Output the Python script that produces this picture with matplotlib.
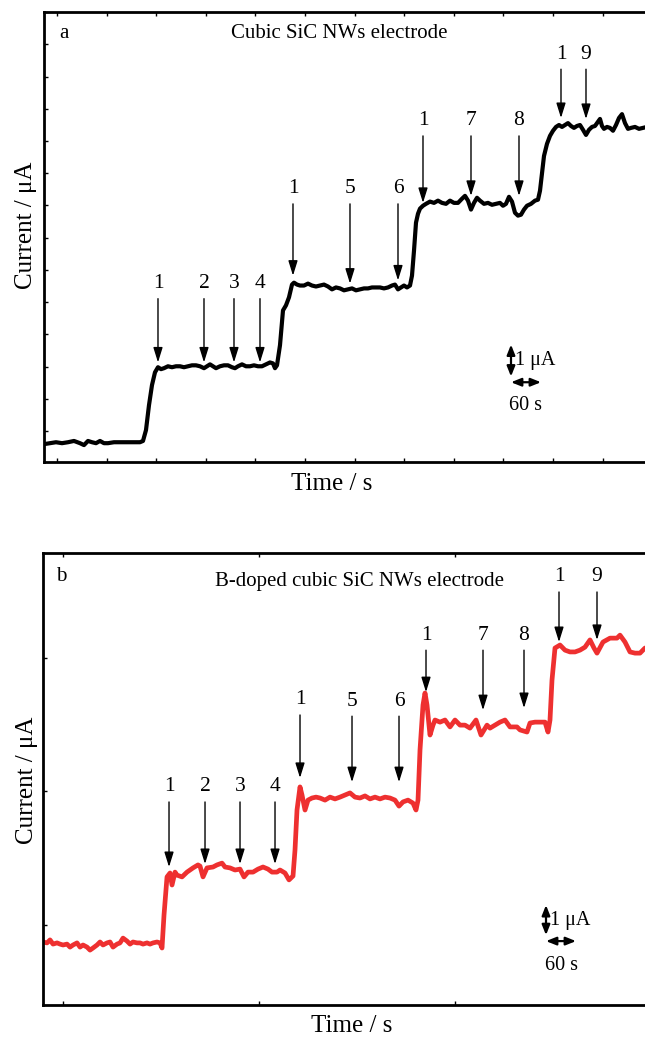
import matplotlib
matplotlib.use('Agg')
import matplotlib.pyplot as plt

plt.rcParams['font.family'] = ['Liberation Serif', 'DejaVu Serif']

# panel a: cubic SiC NWs electrode (time in s, current in uA)
time_a = [0, 12, 24, 36, 48, 60, 72, 80, 88, 96, 104, 112, 120, 128, 140, 152, 172, 192,
          198, 204, 210, 216, 222, 228, 234, 240, 248, 256, 264, 272, 280, 288, 296, 304,
          312, 320, 326, 332, 338, 344, 352, 360, 368, 376, 382, 388, 396, 404, 412, 420,
          428, 436, 444, 452, 458, 462, 466, 472, 478, 484, 490, 496, 500, 506, 512, 520,
          528, 536, 544, 552, 560, 568, 576, 584, 592, 600, 608, 616, 624, 632, 640, 648,
          656, 664, 672, 680, 688, 696, 702, 708, 714, 720, 726, 732, 736, 740, 744, 748,
          752, 758, 764, 772, 780, 788, 796, 804, 812, 820, 828, 836, 842, 848, 854, 860,
          866, 872, 880, 888, 896, 904, 912, 918, 924, 930, 936, 942, 948, 954, 960, 966,
          974, 982, 988, 992, 996, 1000, 1006, 1012, 1018, 1024, 1030, 1036, 1042, 1048,
          1054, 1060, 1066, 1072, 1078, 1084, 1090, 1096, 1102, 1108, 1112, 1116, 1120,
          1126, 1132, 1138, 1144, 1150, 1156, 1162, 1168, 1174, 1182, 1190, 1198, 1206]
current_a = [0.56, 0.59, 0.62, 0.59, 0.62, 0.66, 0.59, 0.53, 0.66, 0.62, 0.59, 0.66, 0.59,
             0.59, 0.62, 0.62, 0.62, 0.62, 0.66, 1.0, 1.78, 2.41, 2.81, 2.97, 2.91, 2.94,
             3.0, 2.97, 3.0, 3.0, 2.97, 3.0, 3.03, 3.03, 3.0, 2.94, 3.0, 3.06, 3.0, 2.94,
             3.0, 3.03, 3.03, 2.97, 2.94, 3.0, 3.06, 3.0, 3.0, 3.03, 3.0, 3.0, 3.06, 3.12,
             3.09, 2.94, 3.03, 3.66, 4.75, 4.91, 5.16, 5.56, 5.62, 5.56, 5.53, 5.53, 5.59,
             5.53, 5.5, 5.53, 5.56, 5.5, 5.41, 5.47, 5.44, 5.38, 5.41, 5.44, 5.38, 5.41,
             5.44, 5.44, 5.47, 5.47, 5.47, 5.44, 5.47, 5.53, 5.56, 5.41, 5.47, 5.53, 5.47,
             5.53, 5.84, 6.62, 7.5, 7.78, 7.94, 8.03, 8.09, 8.16, 8.12, 8.19, 8.12, 8.09,
             8.19, 8.12, 8.12, 8.25, 8.34, 8.19, 7.91, 8.12, 8.28, 8.19, 8.09, 8.12, 8.06,
             8.09, 8.12, 8.03, 8.09, 8.31, 8.16, 7.81, 7.72, 7.75, 7.91, 8.03, 8.09, 8.19,
             8.22, 8.5, 9.06, 9.59, 9.97, 10.22, 10.38, 10.5, 10.56, 10.5, 10.56, 10.62,
             10.53, 10.47, 10.53, 10.56, 10.41, 10.25, 10.41, 10.5, 10.53, 10.66, 10.75,
             10.53, 10.44, 10.5, 10.47, 10.38, 10.56, 10.78, 10.9, 10.62, 10.44, 10.47,
             10.5, 10.44, 10.47, 10.5]

# panel b: B-doped cubic SiC NWs electrode
time_b = [0, 8, 14, 20, 28, 34, 40, 48, 54, 60, 68, 74, 80, 88, 94, 100, 108, 114, 120,
          128, 134, 140, 148, 154, 160, 168, 174, 180, 188, 194, 200, 208, 214, 220, 228,
          234, 238, 242, 248, 254, 258, 264, 268, 278, 288, 300, 310, 314, 320, 328, 340,
          348, 358, 364, 374, 384, 394, 402, 410, 420, 430, 440, 450, 458, 468, 474, 484,
          492, 500, 504, 508, 514, 518, 524, 530, 538, 546, 554, 564, 574, 584, 594, 604,
          614, 624, 634, 644, 654, 664, 674, 684, 694, 704, 712, 720, 730, 740, 746, 750,
          754, 760, 764, 768, 774, 780, 784, 794, 804, 814, 824, 834, 844, 854, 866, 876,
          888, 894, 904, 914, 924, 934, 948, 954, 968, 974, 984, 994, 1004, 1010, 1014,
          1018, 1024, 1034, 1044, 1054, 1064, 1074, 1084, 1094, 1102, 1108, 1120, 1134,
          1148, 1154, 1164, 1174, 1184, 1194, 1204, 1214]
current_b = [2.1, 2.07, 2.17, 2.03, 2.07, 2.03, 2.0, 2.03, 1.93, 2.0, 2.07, 1.93, 2.0, 1.93,
             1.83, 1.9, 2.0, 2.1, 2.0, 2.07, 2.1, 1.93, 2.03, 2.07, 2.23, 2.13, 2.03, 2.1,
             2.07, 2.07, 2.03, 2.07, 2.03, 2.07, 2.1, 2.07, 1.9, 3.0, 4.27, 4.4, 4.0, 4.43,
             4.33, 4.27, 4.43, 4.57, 4.67, 4.63, 4.27, 4.57, 4.6, 4.67, 4.73, 4.6, 4.57,
             4.5, 4.53, 4.27, 4.43, 4.43, 4.53, 4.6, 4.53, 4.43, 4.43, 4.5, 4.4, 4.17, 4.3,
             5.17, 6.5, 7.27, 7.0, 6.5, 6.83, 6.9, 6.93, 6.9, 6.83, 6.93, 6.87, 6.93, 7.0,
             7.07, 6.93, 6.9, 6.97, 6.87, 6.93, 6.87, 6.93, 6.9, 6.83, 6.63, 6.77, 6.83,
             6.73, 6.5, 6.83, 8.5, 10.0, 10.4, 10.0, 9.0, 9.33, 9.5, 9.43, 9.5, 9.27, 9.5,
             9.33, 9.33, 9.23, 9.5, 9.0, 9.33, 9.23, 9.33, 9.43, 9.5, 9.27, 9.27, 9.17, 9.1,
             9.4, 9.43, 9.43, 9.43, 9.1, 9.5, 10.83, 11.9, 12.0, 11.83, 11.77, 11.77, 11.83,
             11.93, 12.17, 11.9, 11.73, 12.1, 12.23, 12.23, 12.33, 12.1, 11.77, 11.73, 11.73,
             11.9, 11.93]

# analyte additions: label, time of addition, current at arrow tip, label height
labels_a = ['1', '2', '3', '4', '1', '5', '6', '1', '7', '8', '1', '9']
add_time_a = [228, 320, 380, 432, 498, 612, 708, 758, 854, 950, 1034, 1084]
tip_a = [3.12, 3.12, 3.12, 3.12, 5.84, 5.59, 5.69, 8.12, 8.34, 8.34, 10.78, 10.75]
label_y_a = [5.59, 5.59, 5.59, 5.59, 8.56, 8.56, 8.56, 10.69, 10.69, 10.69, 12.78, 12.78]

labels_b = ['1', '2', '3', '4', '1', '5', '6', '1', '7', '8', '1', '9']
add_time_b = [252, 324, 394, 464, 514, 618, 712, 766, 880, 962, 1032, 1108]
tip_b = [4.6, 4.7, 4.7, 4.7, 7.57, 7.43, 7.43, 10.43, 9.83, 9.9, 12.1, 12.17]
label_y_b = [7.27, 7.27, 7.27, 7.27, 10.17, 10.13, 10.13, 12.33, 12.33, 12.33, 14.27, 14.27]

fig = plt.figure(figsize=(6.45, 10.38), dpi=100)
ax_a = fig.add_axes([0.0682, 0.5549, 0.9473, 0.4335])
ax_b = fig.add_axes([0.0667, 0.0318, 0.9488, 0.4355])


def style_axes(ax, xticks, yticks, xlim, ylim):
    ax.set_xlim(*xlim)
    ax.set_ylim(*ylim)
    ax.set_xticks(xticks)
    ax.set_yticks(yticks)
    ax.tick_params(direction='in', length=3, width=1, top=True, right=True,
                   labelbottom=False, labelleft=False)
    for s in ax.spines.values():
        s.set_linewidth(2.0)


def add_arrows(ax, labels, times, tips, label_y):
    for lab, t, tip, ly in zip(labels, times, tips, label_y):
        ax.annotate(lab, xy=(t, tip), xytext=(t, ly), ha='center', va='center',
                    fontsize=15.5,
                    arrowprops=dict(arrowstyle='-|>,head_length=0.9,head_width=0.28',
                                    color='k', lw=1.0, shrinkA=2, shrinkB=0,
                                    mutation_scale=10))


def scale_bar(ax, t0, y0, ybar, ytext):
    ax.annotate('', xy=(t0, y0 + 1), xytext=(t0, y0),
                arrowprops=dict(arrowstyle='<|-|>,head_length=0.6,head_width=0.24',
                                color='k', lw=1.6, shrinkA=0, shrinkB=0, mutation_scale=10))
    ax.text(t0 + 8, y0 + 0.5, '1 μA', fontsize=14.5, ha='left', va='center')
    ax.annotate('', xy=(t0 + 60, ybar), xytext=(t0, ybar),
                arrowprops=dict(arrowstyle='<|-|>,head_length=0.6,head_width=0.24',
                                color='k', lw=1.6, shrinkA=0, shrinkB=0, mutation_scale=10))
    ax.text(t0 + 30, ytext, '60 s', fontsize=14.5, ha='center', va='center')


# panel a
ax_a.plot(time_a, current_a, color='black', lw=3.0, solid_joinstyle='round')
style_axes(ax_a, [26 + 99.2 * k for k in range(13)], [0.97 + 1.01 * k for k in range(14)],
           (0, 1222), (0, 14.06))
add_arrows(ax_a, labels_a, add_time_a, tip_a, label_y_a)
scale_bar(ax_a, 934, 2.68, 2.5, 1.78)
ax_a.text(0.025, 0.953, 'a', transform=ax_a.transAxes, fontsize=15, ha='left', va='center')
ax_a.text(0.484, 0.953, 'Cubic SiC NWs electrode', transform=ax_a.transAxes,
          fontsize=15, ha='center', va='center')
ax_a.set_xlabel('Time / s', fontsize=18, va='center')
ax_a.xaxis.set_label_coords(0.471, -0.049)
ax_a.set_ylabel('Current / μA', fontsize=18, va='center')
ax_a.yaxis.set_label_coords(-0.029, 0.527)

# panel b
ax_b.plot(time_b, current_b, color='#ee3030', lw=3.4, solid_joinstyle='round')
style_axes(ax_b, [40, 432, 824, 1216], [2.67, 7.12, 11.57], (0, 1224), (0, 15.07))
add_arrows(ax_b, labels_b, add_time_b, tip_b, label_y_b)
scale_bar(ax_b, 1006, 2.33, 2.13, 1.33)
ax_b.text(0.021, 0.947, 'b', transform=ax_b.transAxes, fontsize=15, ha='left', va='center')
ax_b.text(0.517, 0.936, 'B-doped cubic SiC NWs electrode', transform=ax_b.transAxes,
          fontsize=15, ha='center', va='center')
ax_b.set_xlabel('Time / s', fontsize=18, va='center')
ax_b.xaxis.set_label_coords(0.505, -0.046)
ax_b.set_ylabel('Current / μA', fontsize=18, va='center')
ax_b.yaxis.set_label_coords(-0.026, 0.498)

fig.savefig('out.png', dpi=100)
